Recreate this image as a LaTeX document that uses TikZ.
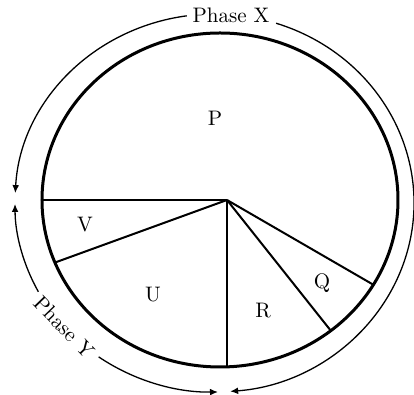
\documentclass[tikz,border=0pt]{standalone}
\usetikzlibrary{calc,arrows.meta}
\begin{document}
\begin{tikzpicture}[x=0.5pt,y=0.5pt,
  rim/.style={line width=1.5pt},
  spoke/.style={line width=1pt},
  phase/.style={line width=0.65pt,-{Latex[length=4pt,width=3.4pt]}},
  lbl/.style={font=\fontsize{10.5}{12}\selectfont,inner sep=0pt}]
\useasboundingbox (0,0) rectangle (414,395);
% centres
\coordinate (c) at (220,195);
\coordinate (oc) at (214.5,192);
\coordinate (hub) at (227,195);
% main rim
\draw[rim] (c) ellipse [x radius=178, y radius=167];
% spoke ends on the rim
\coordinate (eW) at ($(c)+(180:178 and 167)$);
\coordinate (eV) at ($(c)+(202:178 and 167)$);
\coordinate (eS) at (227,28.2);
\coordinate (eR) at ($(c)+(308.5:178 and 167)$);
\coordinate (eQ) at ($(c)+(329.5:178 and 167)$);
\draw[spoke] (eW) -- (hub);
\draw[spoke] (eV) -- (hub);
\draw[spoke] (eS) -- (hub);
\draw[spoke] (eR) -- (hub);
\draw[spoke] (eQ) -- (hub);
% sector labels
\node[lbl] (P) at (215,277) {P};
\node[lbl] (V) at (85,170) {V};
\node[lbl] (U) at (153,100) {U};
\node[lbl] (R) at (263,84) {R};
\node[lbl] (Q) at (322,112) {Q};
% Phase X
\node[lbl] (px) at (231,380) {Phase X};
\draw[phase] ($(oc)+(98:199.5 and 189)$) arc[start angle=98, end angle=177, x radius=199.5, y radius=189];
\draw[phase] ($(oc)+(72:199.5 and 189)$) arc[start angle=72, end angle=-85.5, x radius=199.5, y radius=189];
% Phase Y
\node[lbl,rotate=-46] (py) at ($(oc)+(221:199.5 and 189)$) {Phase Y};
\draw[phase,{Latex[length=4pt,width=3.4pt]}-] ($(oc)+(180.3:199.5 and 189)$) arc[start angle=180.3, end angle=208, x radius=199.5, y radius=189];
\draw[phase] ($(oc)+(234.5:199.5 and 189)$) arc[start angle=234.5, end angle=271, x radius=199.5, y radius=189];
\end{tikzpicture}
\end{document}
